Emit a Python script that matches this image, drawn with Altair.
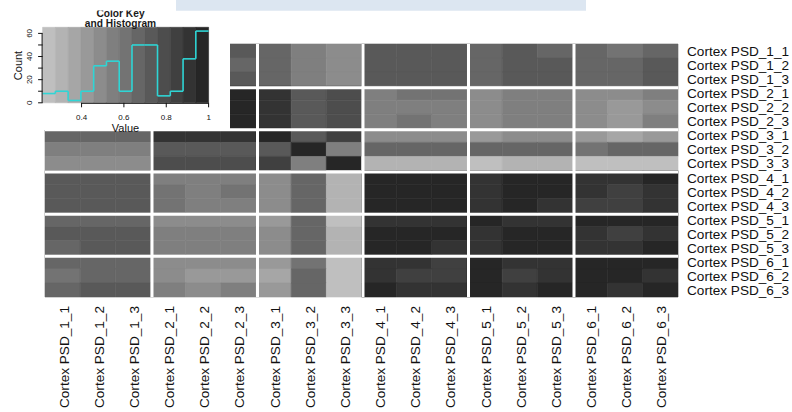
import altair as alt
import numpy as np
import pandas as pd

# Sample names (rows top to bottom, columns left to right)
samples = [
    "Cortex PSD_1_1", "Cortex PSD_1_2", "Cortex PSD_1_3",
    "Cortex PSD_2_1", "Cortex PSD_2_2", "Cortex PSD_2_3",
    "Cortex PSD_3_1", "Cortex PSD_3_2", "Cortex PSD_3_3",
    "Cortex PSD_4_1", "Cortex PSD_4_2", "Cortex PSD_4_3",
    "Cortex PSD_5_1", "Cortex PSD_5_2", "Cortex PSD_5_3",
    "Cortex PSD_6_1", "Cortex PSD_6_2", "Cortex PSD_6_3",
]

# Correlation of each sample with the samples that follow it (upper triangle)
psd_1_1 = [0.97, 0.96, 0.72, 0.68, 0.71, 0.66, 0.55, 0.50, 0.73, 0.72, 0.74, 0.67, 0.71, 0.68, 0.66, 0.62, 0.68]
psd_1_2 = [0.96, 0.67, 0.66, 0.68, 0.67, 0.54, 0.49, 0.72, 0.73, 0.72, 0.66, 0.72, 0.71, 0.67, 0.65, 0.72]
psd_1_3 = [0.71, 0.72, 0.73, 0.68, 0.56, 0.50, 0.74, 0.73, 0.73, 0.67, 0.73, 0.72, 0.68, 0.66, 0.71]
psd_2_1 = [0.96, 0.95, 0.90, 0.74, 0.79, 0.55, 0.61, 0.60, 0.49, 0.54, 0.55, 0.48, 0.50, 0.56]
psd_2_2 = [0.97, 0.91, 0.73, 0.78, 0.54, 0.56, 0.55, 0.48, 0.53, 0.54, 0.49, 0.44, 0.47]
psd_2_3 = [0.90, 0.72, 0.80, 0.56, 0.62, 0.53, 0.50, 0.55, 0.56, 0.48, 0.43, 0.53]
psd_3_1 = [0.74, 0.85, 0.49, 0.48, 0.50, 0.42, 0.47, 0.49, 0.41, 0.36, 0.43]
psd_3_2 = [0.55, 0.66, 0.67, 0.65, 0.68, 0.66, 0.67, 0.61, 0.65, 0.66]
psd_3_3 = [0.31, 0.30, 0.32, 0.26, 0.29, 0.31, 0.216, 0.24, 0.25]
psd_4_1 = [0.97, 0.96, 0.92, 0.95, 0.96, 0.91, 0.90, 0.95]
psd_4_2 = [0.96, 0.91, 0.96, 0.95, 0.92, 0.86, 0.90]
psd_4_3 = [0.90, 0.95, 0.91, 0.85, 0.84, 0.89]
psd_5_1 = [0.92, 0.91, 0.95, 0.96, 0.95]
psd_5_2 = [0.97, 0.91, 0.86, 0.92]
psd_5_3 = [0.90, 0.91, 0.95]
psd_6_1 = [0.96, 0.95]
psd_6_2 = [0.92]

upper = [psd_1_1, psd_1_2, psd_1_3, psd_2_1, psd_2_2, psd_2_3, psd_3_1, psd_3_2,
         psd_3_3, psd_4_1, psd_4_2, psd_4_3, psd_5_1, psd_5_2, psd_5_3, psd_6_1, psd_6_2]

# Grey ramp of the colour key, light (low) to dark (high)
greys = ["#BFBFBF", "#B3B3B3", "#A6A6A6", "#999999", "#8C8C8C", "#7F7F7F", "#737373",
         "#666666", "#595959", "#4D4D4D", "#404040", "#333333", "#262626"]

# Colour-key axis ticks
key_x_ticks = [0.4, 0.6, 0.8, 1.0]
key_x_tick_labels = ["0.4", "0.6", "0.8", "1"]
key_y_ticks = [0, 10, 20, 30, 40, 50, 60]
key_y_tick_labels = ["0", "", "20", "", "40", "", "60"]

group_size = 3
n = len(samples)
mat = np.eye(n)
for i, row in enumerate(upper):
    for k, v in enumerate(row):
        j = i + 1 + k
        mat[i, j] = v
        mat[j, i] = v

cells = pd.DataFrame(
    [{"r0": i, "r1": i + 1, "c0": j, "c1": j + 1, "value": float(mat[i, j])}
     for i in range(n) for j in range(n)]
)

nbins = len(greys)
vmin, vmax = float(mat.min()), float(mat.max())
breaks = np.linspace(vmin, vmax, nbins + 1)
bw = (vmax - vmin) / nbins
counts, _ = np.histogram(mat.ravel(), bins=breaks)
ymax = counts.max() / 0.95

FONT = "Liberation Sans"
INK = "#111111"
W, H = 792, 412
HX = [45, 678]      # heatmap horizontal extent
HY = [44, 297]      # heatmap vertical extent
KX = [42.6, 208.6]  # colour key horizontal extent
KY = [102.8, 27.3]  # colour key vertical extent (bottom, top)

color_scale = alt.Scale(type="threshold", domain=[float(b) for b in breaks[1:-1]], range=greys)
hx_scale = alt.Scale(domain=[0, n], range=HX, nice=False, zero=False)
hy_scale = alt.Scale(domain=[0, n], range=HY, nice=False, zero=False)
kx_scale = alt.Scale(domain=[vmin, vmax], range=KX, nice=False, zero=False)
ky_scale = alt.Scale(domain=[0, float(ymax)], range=KY, nice=False, zero=True)

# ---- heatmap ----
heat = alt.Chart(cells).mark_rect(strokeWidth=0.6).encode(
    x=alt.X("c0:Q", scale=hx_scale, axis=None),
    x2="c1:Q",
    y=alt.Y("r0:Q", scale=hy_scale, axis=None),
    y2="r1:Q",
    color=alt.Color("value:Q", scale=color_scale, legend=None),
    stroke=alt.Stroke("value:Q", scale=color_scale, legend=None),
)

# White separators between sample groups
seps = pd.DataFrame({"b": list(range(group_size, n, group_size)), "lo": 0, "hi": n})
vsep = alt.Chart(seps).mark_rule(color="white", strokeWidth=3, xOffset=1.5).encode(
    x=alt.X("b:Q", scale=hx_scale, axis=None),
    y=alt.Y("lo:Q", scale=hy_scale, axis=None),
    y2="hi:Q",
)
hsep = alt.Chart(seps).mark_rule(color="white", strokeWidth=3, yOffset=1.5).encode(
    y=alt.Y("b:Q", scale=hy_scale, axis=None),
    x=alt.X("lo:Q", scale=hx_scale, axis=None),
    x2="hi:Q",
)

names = pd.DataFrame({"name": samples, "pos": [i + 0.5 for i in range(n)]})
row_labels = alt.Chart(names).mark_text(
    align="left", baseline="middle", font=FONT, fontSize=13.6, color=INK, yOffset=1
).encode(
    x=alt.value(HX[1] + 9),
    y=alt.Y("pos:Q", scale=hy_scale, axis=None),
    text="name:N",
)
col_labels = alt.Chart(names).mark_text(
    align="right", baseline="middle", angle=270, font=FONT, fontSize=13.6,
    color=INK, xOffset=2,
).encode(
    x=alt.X("pos:Q", scale=hx_scale, axis=None),
    y=alt.value(HY[1] + 9),
    text="name:N",
)
heat_layer = alt.layer(heat, vsep, hsep, row_labels, col_labels)

one = pd.DataFrame({"k": [0]})
panel = alt.Chart(one).mark_rect(color="white").encode(
    x=alt.value(0), x2=alt.value(230), y=alt.value(0), y2=alt.value(130)
)

# ---- colour key with histogram of all matrix values ----
stripes_df = pd.DataFrame({
    "lo": breaks[:-1], "hi": breaks[1:], "mid": (breaks[:-1] + breaks[1:]) / 2,
    "y0": 0.0, "y1": float(ymax),
})
stripes = alt.Chart(stripes_df).mark_rect(strokeWidth=0.6).encode(
    x=alt.X("lo:Q", scale=kx_scale, axis=None),
    x2="hi:Q",
    y=alt.Y("y0:Q", scale=ky_scale, axis=None),
    y2="y1:Q",
    color=alt.Color("mid:Q", scale=color_scale, legend=None),
    stroke=alt.Stroke("mid:Q", scale=color_scale, legend=None),
)

hist_base = alt.Chart(cells).transform_calculate(
    k=f"min({nbins - 1}, floor((datum.value - {vmin!r}) / {bw!r}))"
).transform_aggregate(
    n="count()", groupby=["k"]
).transform_calculate(
    start=f"{vmin!r} + datum.k * {bw!r}",
    end=f"{vmin!r} + (datum.k + 1) * {bw!r}",
)
HIST_COLOR = "#2fd5d5"
hist_h = hist_base.mark_rule(color=HIST_COLOR, strokeWidth=1.6).encode(
    x=alt.X("start:Q", scale=kx_scale, axis=None),
    x2="end:Q",
    y=alt.Y("n:Q", scale=ky_scale, axis=None),
)
hist_v = hist_base.transform_window(
    nn="lead(n)", sort=[alt.SortField("k")]
).transform_filter("isValid(datum.nn)").mark_rule(color=HIST_COLOR, strokeWidth=1.6).encode(
    x=alt.X("end:Q", scale=kx_scale, axis=None),
    y=alt.Y("n:Q", scale=ky_scale, axis=None),
    y2="nn:Q",
)

xt = pd.DataFrame({"v": key_x_ticks, "label": key_x_tick_labels})
yt = pd.DataFrame({"v": key_y_ticks, "label": key_y_tick_labels})
x_line = pd.DataFrame({"a": [key_x_ticks[0]], "b": [key_x_ticks[-1]]})
y_line = pd.DataFrame({"a": [key_y_ticks[0]], "b": [key_y_ticks[-1]]})

kx_domain = alt.Chart(x_line).mark_rule(color=INK, strokeWidth=1).encode(
    x=alt.X("a:Q", scale=kx_scale, axis=None), x2="b:Q", y=alt.value(KY[0] + 0.5)
)
ky_domain = alt.Chart(y_line).mark_rule(color=INK, strokeWidth=1).encode(
    y=alt.Y("a:Q", scale=ky_scale, axis=None), y2="b:Q", x=alt.value(KX[0] - 0.5)
)
kx_ticks = alt.Chart(xt).mark_rule(color=INK, strokeWidth=1).encode(
    x=alt.X("v:Q", scale=kx_scale, axis=None), y=alt.value(KY[0]), y2=alt.value(KY[0] + 4.5)
)
ky_ticks = alt.Chart(yt).mark_rule(color=INK, strokeWidth=1).encode(
    y=alt.Y("v:Q", scale=ky_scale, axis=None), x=alt.value(KX[0] - 4.5), x2=alt.value(KX[0])
)
kx_labels = alt.Chart(xt).mark_text(
    align="center", baseline="alphabetic", font=FONT, fontSize=8, color=INK
).encode(
    x=alt.X("v:Q", scale=kx_scale, axis=None), y=alt.value(KY[0] + 17.0), text="label:N"
)
ky_labels = alt.Chart(yt).mark_text(
    align="center", baseline="alphabetic", angle=270, font=FONT, fontSize=8, color=INK
).encode(
    y=alt.Y("v:Q", scale=ky_scale, axis=None), x=alt.value(KX[0] - 11), text="label:N"
)
key_layer = alt.layer(stripes, hist_h, hist_v, kx_domain, ky_domain, kx_ticks, ky_ticks,
                      kx_labels, ky_labels)

value_title = alt.Chart(one).mark_text(
    text="Value", font=FONT, fontSize=11, color=INK, align="center", baseline="alphabetic"
).encode(x=alt.value(125.5), y=alt.value(131.8))
count_title = alt.Chart(one).mark_text(
    text="Count", font=FONT, fontSize=11, color=INK, align="center", baseline="alphabetic",
    angle=270,
).encode(x=alt.value(21.8), y=alt.value(65.5))

title1 = alt.Chart(one).mark_text(
    text="Color Key", font=FONT, fontSize=10.2, fontWeight="bold", color="#1a1a1a",
    align="center", baseline="alphabetic",
).encode(x=alt.value(120.5), y=alt.value(17.0))
title2 = alt.Chart(one).mark_text(
    text="and Histogram", font=FONT, fontSize=10.2, fontWeight="bold", color="#1a1a1a",
    align="center", baseline="alphabetic",
).encode(x=alt.value(120.5), y=alt.value(27.3))

top_white = alt.Chart(one).mark_rect(color="white").encode(
    x=alt.value(0), x2=alt.value(176), y=alt.value(0), y2=alt.value(10.4)
)
top_bar = alt.Chart(one).mark_rect(color="#dce6f1").encode(
    x=alt.value(176), x2=alt.value(586), y=alt.value(0), y2=alt.value(10.7)
)

chart = alt.layer(
    heat_layer, panel, key_layer, value_title, count_title, title1, title2, top_white, top_bar
).resolve_scale(
    x="independent", y="independent"
).properties(
    width=W, height=H, padding=0, autosize=alt.AutoSizeParams(type="none"),
    background="white",
).configure_view(stroke=None)

chart.save("out.html", embed_options={"renderer": "svg", "actions": False})
